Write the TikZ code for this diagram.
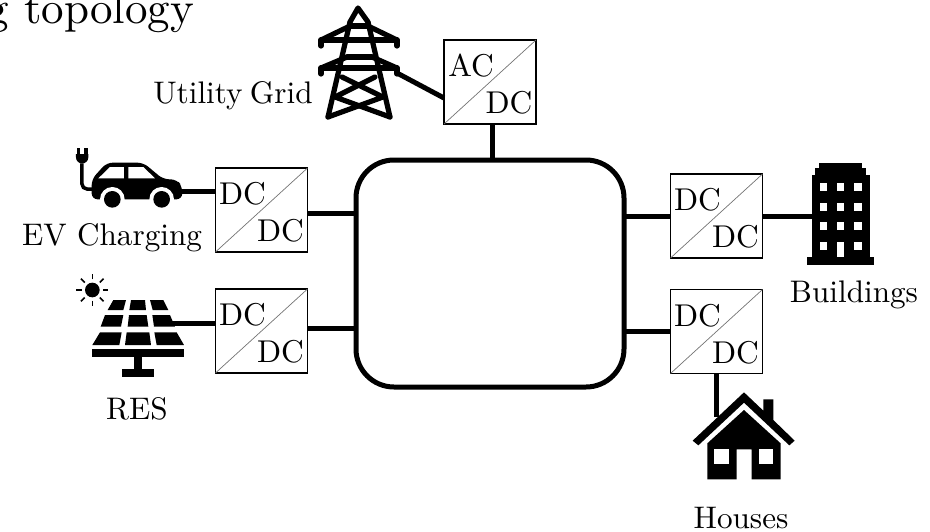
\documentclass[tikz,border=0pt]{standalone}
\usepackage{tikz}
\tikzstyle{grid} = [
  x=1pt,
  y=-1pt,
]
\tikzstyle{conv} = [
  draw,
  line width=1.4pt,
  minimum width=92pt,
  minimum height=84pt,
  inner sep=0pt,
  outer sep=0pt,
]
\tikzstyle{diag} = [line width=0.7pt, draw=black!55]
\tikzstyle{convtext} = [scale=3.15, inner sep=0pt]
\tikzstyle{tag} = [scale=3.12, inner sep=0pt, anchor=base]
\tikzstyle{link} = [line width=5pt]
\tikzstyle{mast} = [line width=5.2pt, line cap=round, line join=round]

\begin{document}
\begin{tikzpicture}[grid]
            \useasboundingbox (0,0) rectangle (930,531);

            \node[scale=4.5, anchor=base east, inner sep=0pt] (title) at (195,23) {g topology};

            % Bus
            \node[draw, line width=5pt, rounded corners=38pt, minimum width=268pt, minimum height=227pt, outer sep=0pt] (bus) at (490,273.5) {};

            % Converters
            \node[conv] (acdc) at (490,82) {};
            \node[conv] (dcev) at (261.5,210) {};
            \node[conv] (dcres) at (261.5,331) {};
            \node[conv] (dcbuilding) at (716.5,216) {};
            \node[conv] (dchouse) at (716.5,331.5) {};

            \draw[diag] (acdc.south west) -- (acdc.north east);
            \draw[diag] (dcev.south west) -- (dcev.north east);
            \draw[diag] (dcres.south west) -- (dcres.north east);
            \draw[diag] (dcbuilding.south west) -- (dcbuilding.north east);
            \draw[diag] (dchouse.south west) -- (dchouse.north east);

            \node[xshift=-19pt, yshift=16pt, convtext] (acdcin) at (acdc) {AC};
            \node[xshift=19pt, yshift=-21pt, convtext] (acdcout) at (acdc) {DC};
            \node[xshift=-19pt, yshift=16pt, convtext] (dcevin) at (dcev) {DC};
            \node[xshift=19pt, yshift=-21pt, convtext] (dcevout) at (dcev) {DC};
            \node[xshift=-19pt, yshift=16pt, convtext] (dcresin) at (dcres) {DC};
            \node[xshift=19pt, yshift=-21pt, convtext] (dcresout) at (dcres) {DC};
            \node[xshift=-19pt, yshift=16pt, convtext] (dcbuildingin) at (dcbuilding) {DC};
            \node[xshift=19pt, yshift=-21pt, convtext] (dcbuildingout) at (dcbuilding) {DC};
            \node[xshift=-19pt, yshift=16pt, convtext] (dchousein) at (dchouse) {DC};
            \node[xshift=19pt, yshift=-21pt, convtext] (dchouseout) at (dchouse) {DC};

            % Tower
            \begin{scope}[mast]
                \draw (350,22) -- (358,8) -- (368,22);
                \draw (350,22) -- (328,117);
                \draw (368,22) -- (390,117);
                \draw (350,26) -- (368,26);
                \draw (347,57) -- (372,57);
                \draw (321,46) -- (321,40) -- (397,40) -- (397,46);
                \draw (321,40) -- (350,26);
                \draw (397,40) -- (368,26);
                \draw (321,74) -- (321,68) -- (397,68) -- (397,74);
                \draw (321,68) -- (347,57);
                \draw (397,68) -- (372,57);
                \draw (342,77) -- (383,97) -- (328,117);
                \draw (375,77) -- (335,97) -- (390,117);
            \end{scope}
            \coordinate (gridport) at (397,73);

            % Car
            \begin{scope}[scale=1/3]
                \fill[rounded corners=6pt] (275,598) -- (275,538) -- (320,488) -- (430,488) -- (490,538) -- (530,538) -- (547,560) -- (547,598) -- cycle;
                \fill[white] (295,535) -- (330,501) -- (372,501) -- (372,535) -- cycle;
                \fill[white] (385,501) -- (430,501) -- (465,535) -- (385,535) -- cycle;
                \fill[white] (337,598) circle (37);
                \fill[white] (485,598) circle (37);
                \fill (337,598) circle (25);
                \fill (485,598) circle (25);
                \draw[line width=3.5pt, rounded corners=5pt] (246,490) -- (246,567) -- (280,567);
                \fill (228,462) -- (265,462) -- (265,472) arc (0:180:18.5) -- cycle;
                \fill (230,445) rectangle (240,462);
                \fill (253,445) rectangle (263,462);
            \end{scope}
            \coordinate (carport) at (181,191);

            % Sun and panels
            \begin{scope}[shift={(60,260)}, scale=1/3]
                \fill (97,90) circle (22);
                \foreach \ang in {0,45,...,315}
                    \draw[line width=1.6pt] (97,90) ++(\ang:32) -- ++(\ang:16);
                \fill (160,120) -- (198,120) -- (190,150) -- (143,150) -- cycle;
                \fill (213,120) -- (255,120) -- (258,150) -- (208,150) -- cycle;
                \fill (270,120) -- (310,120) -- (325,150) -- (278,150) -- cycle;
                \fill (135,165) -- (190,165) -- (183,200) -- (122,200) -- cycle;
                \fill (207,165) -- (260,165) -- (265,200) -- (203,200) -- cycle;
                \fill (277,165) -- (330,165) -- (345,200) -- (282,200) -- cycle;
                \fill (120,217) -- (185,217) -- (178,255) -- (97,255) -- cycle;
                \fill (200,217) -- (268,217) -- (273,255) -- (195,255) -- cycle;
                \fill (283,217) -- (350,217) -- (372,255) -- (290,255) -- cycle;
                \fill (97,268) rectangle (372,292);
                \fill (222,292) rectangle (247,328);
                \fill (185,328) rectangle (283,350);
            \end{scope}
            \coordinate (solarport) at (170,323);

            % Building
            \begin{scope}[shift={(660,150)}, scale=1/3]
                \fill (477,38) rectangle (607,55);
                \fill (465,55) rectangle (618,75);
                \fill (455,75) rectangle (630,320);
                \fill (440,320) rectangle (643,345);
                \fill[white] (479,99) rectangle +(23,23);
                \fill[white] (530,99) rectangle +(23,23);
                \fill[white] (582,99) rectangle +(23,23);
                \fill[white] (479,159) rectangle +(23,23);
                \fill[white] (530,159) rectangle +(23,23);
                \fill[white] (582,159) rectangle +(23,23);
                \fill[white] (479,217) rectangle +(23,23);
                \fill[white] (530,217) rectangle +(23,23);
                \fill[white] (582,217) rectangle +(23,23);
                \fill[white] (479,276) rectangle +(23,23);
                \fill[white] (582,276) rectangle +(23,23);
                \fill[white] (530,276) rectangle (553,320);
            \end{scope}
            \coordinate (buildingport) at (812,216);

            % House
            \begin{scope}[shift={(660,340)}, scale=1/3]
                \fill (98,302) -- (252,157) -- (310,212) -- (310,178) -- (340,178) -- (340,240) -- (404,302) -- (388,316) -- (252,188) -- (115,316) -- cycle;
                \fill (252,210) -- (362,310) -- (362,418) -- (275,418) -- (275,328) -- (230,328) -- (230,418) -- (142,418) -- (142,310) -- cycle;
                \fill[white] (163,328) rectangle (208,372);
                \fill[white] (296,328) rectangle (340,372);
            \end{scope}
            \coordinate (houseport) at (716.5,417);

            % Connections
            \draw[link] ([xshift=2pt]acdc.south) -- ([xshift=2pt]acdc.south |- bus.north);
            \draw[link] ([yshift=-3pt]dcev.east) -- ([yshift=-3pt]dcev.east -| bus.west);
            \draw[link] ([yshift=3pt]dcres.east) -- ([yshift=3pt]dcres.east -| bus.west);
            \draw[link] (bus.east |- dcbuilding.west) -- (dcbuilding.west);
            \draw[link] (bus.east |- dchouse.west) -- (dchouse.west);
            \draw[link] (gridport) -- ([yshift=-16pt]acdc.west);
            \draw[link] (carport) -- (carport -| dcev.west);
            \draw[link] (solarport) -- (solarport -| dcres.west);
            \draw[link] (dcbuilding.east) -- (buildingport);
            \draw[link] (dchouse.south) -- (houseport);

            % Labels
            \node[tag] (gridlabel) at (233,103) {Utility\kern-0.1em{} Grid};
            \node[tag] (evlabel) at (112,245) {EV Charging};
            \node[tag] (reslabel) at (137,419) {RES};
            \node[tag] (buildinglabel) at (854,302) {Buildings};
            \node[tag] (houselabel) at (741,528) {Houses};
          \end{tikzpicture}
\end{document}
